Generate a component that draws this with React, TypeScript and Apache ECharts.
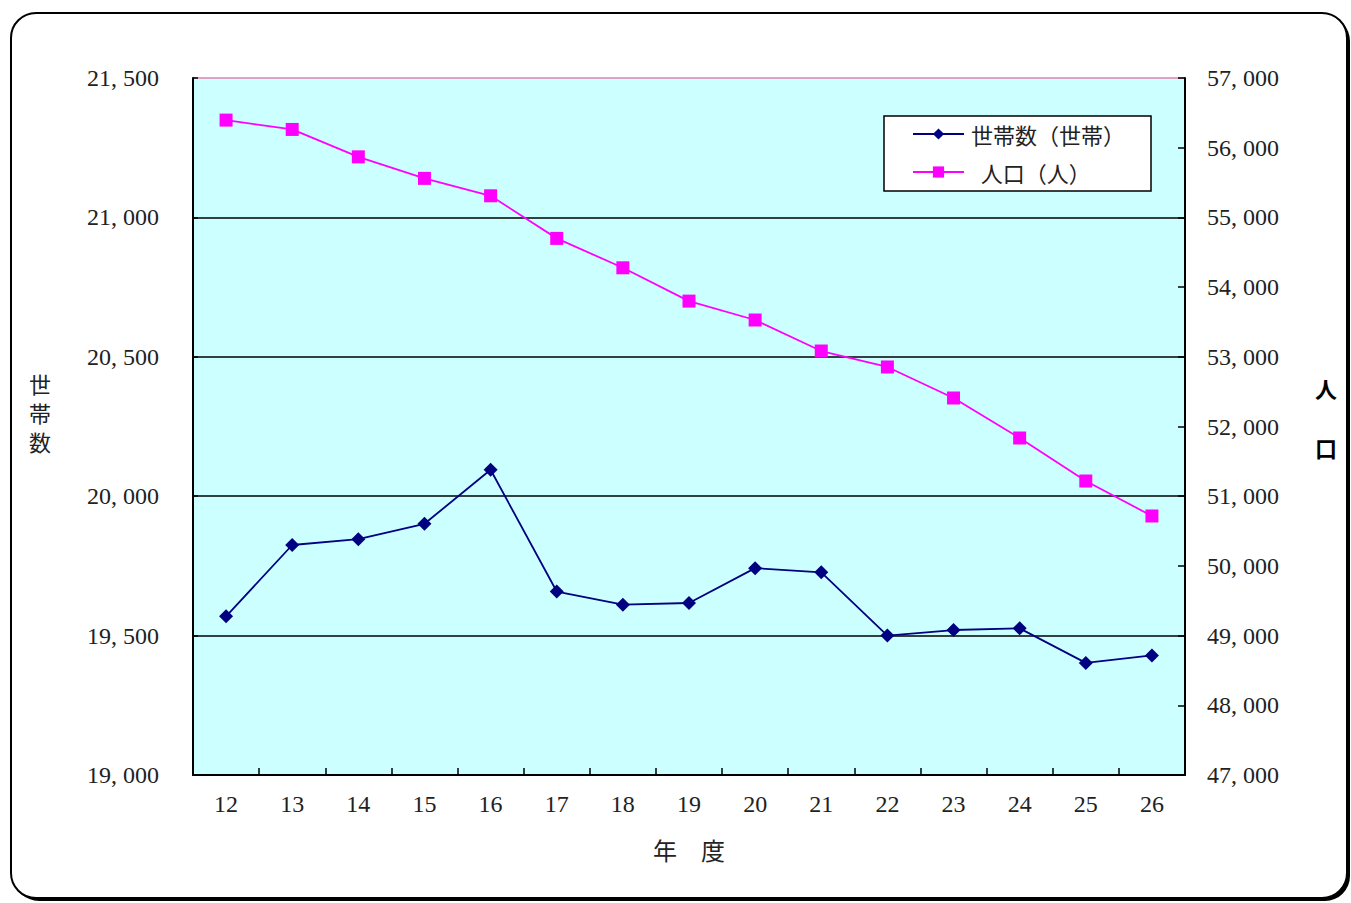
import React, { useEffect, useRef } from "react";
import * as echarts from "echarts";

const years = ["12", "13", "14", "15", "16", "17", "18", "19", "20", "21", "22", "23", "24", "25", "26"];
const households = [19569, 19825, 19846, 19901, 20095, 19658, 19611, 19617, 19742, 19727, 19500, 19520, 19526, 19402, 19429];
const population = [56396, 56262, 55869, 55560, 55310, 54699, 54277, 53799, 53528, 53083, 52854, 52409, 51835, 51218, 50716];
const householdsName = "世帯数（世帯）";
const populationName = "  人口（人）";
const leftAxisName = "世\n帯\n数";
const rightAxisName = "人\n口";
const xAxisName = "年　度";

const fmt = (v: number) => {
  const th = Math.floor(v / 1000);
  const rest = String(v % 1000).padStart(3, "0");
  return th + ", " + rest;
};

const SERIF = "'Liberation Serif', 'Noto Sans CJK JP', serif";
const CJK = "'Noto Sans CJK JP', sans-serif";

export default function App() {
  const ref = useRef<HTMLDivElement>(null);
  useEffect(() => {
    if (!ref.current) return;
    const chart = echarts.init(ref.current, null, { renderer: "svg" });
    chart.setOption({
      animation: false,
      backgroundColor: "#ffffff",
      graphic: [
        {
          type: "rect",
          z: -10,
          silent: true,
          shape: { x: 14, y: 16, width: 1336, height: 885, r: 25 },
          style: { fill: "#000000" },
        },
        {
          type: "rect",
          z: -9,
          silent: true,
          shape: { x: 11, y: 13, width: 1336, height: 885, r: 25 },
          style: { fill: "#ffffff", stroke: "#000000", lineWidth: 2 },
        },
        {
          type: "text",
          silent: true,
          left: 29,
          top: 368,
          style: {
            text: leftAxisName,
            font: "22px 'Noto Sans CJK JP', sans-serif",
            fill: "#222",
            lineHeight: 29,
          },
        },
        {
          type: "text",
          silent: true,
          left: 1315,
          top: 358,
          style: {
            text: rightAxisName,
            font: "bold 22px 'Noto Sans CJK JP', sans-serif",
            fill: "#000",
            lineHeight: 59,
          },
        },
      ],
      grid: {
        left: 193,
        right: 166,
        top: 78,
        bottom: 128,
        show: true,
        backgroundColor: "#CCFFFF",
        borderWidth: 0,
      },
      legend: {
        orient: "vertical",
        left: 884,
        top: 116,
        padding: [7, 26, 8, 28],
        itemGap: 16,
        itemWidth: 51,
        itemHeight: 14,
        backgroundColor: "#ffffff",
        borderColor: "#000000",
        borderWidth: 1.5,
        borderRadius: 0,
        textStyle: { fontFamily: CJK, fontSize: 22, color: "#222", lineHeight: 22, padding: [0, 0, 0, 2] },
        data: [householdsName, populationName],
      },
      xAxis: {
        type: "category",
        data: years,
        boundaryGap: true,
        name: xAxisName,
        nameLocation: "middle",
        nameGap: 62,
        nameTextStyle: { fontFamily: CJK, fontSize: 24, color: "#222" },
        axisLine: { lineStyle: { color: "#000", width: 2 } },
        axisTick: { show: true, inside: true, length: 7, alignWithLabel: false, lineStyle: { color: "#000", width: 1.5 } },
        axisLabel: { fontFamily: SERIF, fontSize: 24, color: "#222", margin: 17 },
        splitLine: { show: false },
      },
      yAxis: [
        {
          type: "value",
          min: 19000,
          max: 21500,
          interval: 500,
          position: "left",
          axisLine: { show: true, lineStyle: { color: "#000", width: 2 } },
          axisTick: { show: true, inside: true, length: 5, lineStyle: { color: "#000", width: 1.5 } },
          axisLabel: { formatter: fmt, fontFamily: SERIF, fontSize: 24, color: "#222", margin: 34 },
          splitLine: {
            show: true,
            lineStyle: { color: ["#000", "#000", "#000", "#000", "#000", "#E080B0"], width: 1.5 },
          },
        },
        {
          type: "value",
          min: 47000,
          max: 57000,
          interval: 1000,
          position: "right",
          axisLine: { show: true, lineStyle: { color: "#000", width: 2 } },
          axisTick: { show: true, inside: true, length: 7, lineStyle: { color: "#000", width: 1.5 } },
          axisLabel: { formatter: fmt, fontFamily: SERIF, fontSize: 24, color: "#222", margin: 22 },
          splitLine: { show: false },
        },
      ],
      series: [
        {
          name: householdsName,
          type: "line",
          yAxisIndex: 0,
          data: households,
          symbol: "diamond",
          symbolSize: 14,
          lineStyle: { color: "#000080", width: 1.8 },
          itemStyle: { color: "#000080" },
        },
        {
          name: populationName,
          type: "line",
          yAxisIndex: 1,
          data: population,
          symbol: "rect",
          symbolSize: 13,
          lineStyle: { color: "#FF00FF", width: 1.8 },
          itemStyle: { color: "#FF00FF" },
        },
      ],
    });
    return () => chart.dispose();
  }, []);
  return (
    <div
      ref={ref}
      style={{ position: "fixed", left: 0, top: 0, width: 1351, height: 903 }}
    />
  );
}
